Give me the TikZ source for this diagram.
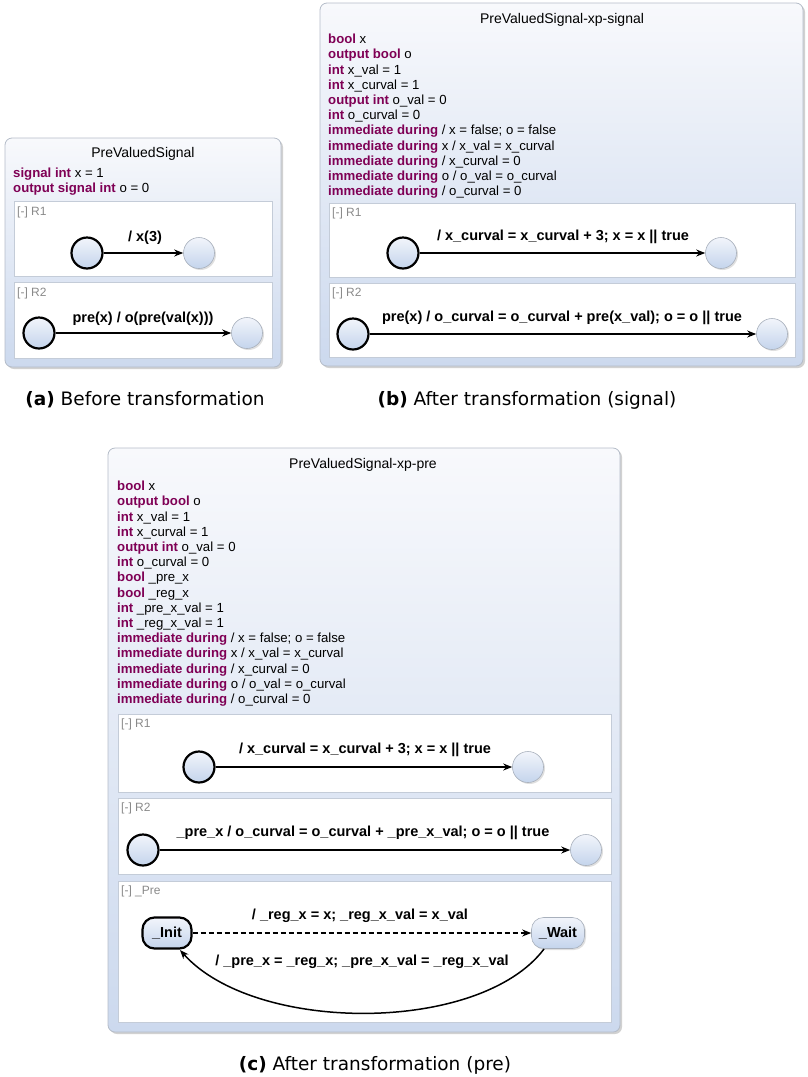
\documentclass[tikz,border=0pt]{standalone}
\usepackage{fontspec}
\setmainfont{Liberation Sans}
\newfontfamily\capfont{DejaVu Sans}
\usetikzlibrary{arrows.meta,shadows}
\definecolor{kwcol}{HTML}{7F0055}
\definecolor{boxtop}{HTML}{F8F9FC}
\definecolor{boxbot}{HTML}{CCD9EE}
\definecolor{boxborder}{HTML}{B4BCC8}
\definecolor{regborder}{HTML}{C4CCD8}
\definecolor{sttop}{HTML}{F2F5FB}
\definecolor{stbot}{HTML}{C4D4EC}
\definecolor{stborder}{HTML}{A8B0BC}
\definecolor{reggray}{HTML}{8A8A8A}
\newcommand{\kwd}[1]{\textcolor{kwcol}{\textbf{#1}}}
\begin{document}
\begin{tikzpicture}[x=1pt,y=-1pt,
  outerbox/.style={draw=boxborder, line width=0.8pt, rounded corners=7pt, top color=boxtop, bottom color=boxbot,
    drop shadow={opacity=0.3, shadow xshift=2pt, shadow yshift=-2pt, fill=black!60}},
  region/.style={draw=regborder, line width=0.8pt, fill=white},
  initst/.style={circle, minimum size=31pt, inner sep=0pt, draw=black, line width=2.2pt, top color=sttop, bottom color=stbot},
  finst/.style={circle, minimum size=31pt, inner sep=0pt, draw=stborder, line width=0.6pt, top color=sttop, bottom color=stbot,
    drop shadow={opacity=0.25, shadow xshift=1.5pt, shadow yshift=-1.5pt}},
  trans/.style={-{Stealth[length=9pt,width=7pt]}, line width=1.5pt},
  tlabel/.style={font=\fontsize{14.5}{17}\selectfont\bfseries, inner sep=0pt},
  ttitle/.style={font=\fontsize{14}{16}\selectfont, inner sep=0pt},
  code/.style={font=\fontsize{13.2}{15.2}\selectfont, align=left, anchor=north west, inner sep=0pt},
  reglabel/.style={font=\fontsize{12}{14}\selectfont, text=reggray, anchor=west, inner sep=0pt},
  capt/.style={font=\capfont\fontsize{18.5}{21}\selectfont, inner sep=0pt},
  initrect/.style={rectangle, rounded corners=12pt, minimum height=31pt, inner sep=3pt, draw=black, line width=2.2pt,
    top color=sttop, bottom color=stbot, font=\fontsize{14.5}{17}\selectfont\bfseries},
  waitrect/.style={rectangle, rounded corners=12pt, minimum height=31pt, inner sep=3pt, draw=stborder, line width=0.6pt,
    top color=sttop, bottom color=stbot, font=\fontsize{14.5}{17}\selectfont\bfseries,
    drop shadow={opacity=0.25, shadow xshift=1.5pt, shadow yshift=-1.5pt}}
]
\useasboundingbox (0,0) rectangle (808,1077);

% ---------------- Panel (a)
\draw[outerbox] (5,138) rectangle (281,367);
\node[ttitle] (ta) at (143,154) {PreValuedSignal};
\node[code] (ca) at (13,168) {\kwd{signal int} x = 1\\\kwd{output signal int} o = 0};
\draw[region] (14,201) rectangle (272,276);
\draw[region] (14,282) rectangle (272,358);
\node[reglabel] (ra1) at (17,212) {[-] R1};
\node[reglabel] (ra2) at (17,293) {[-] R2};
\node[initst] (ia1) at (87,253) {};
\node[finst] (fa1) at (199,253) {};
\draw[trans] (ia1) -- (fa1);
\node[tlabel] (la1) at (145,238) {/ x(3)};
\node[initst] (ia2) at (39,333) {};
\node[finst] (fa2) at (247,333) {};
\draw[trans] (ia2) -- (fa2);
\node[tlabel] (la2) at (143,319) {pre(x) / o(pre(val(x)))};

% ---------------- Panel (b)
\draw[outerbox] (320,3) rectangle (803,366);
\node[ttitle] (tb) at (562,20) {PreValuedSignal-xp-signal};
\node[code] (cb) at (328,34) {\kwd{bool} x\\
\kwd{output bool} o\\
\kwd{int} x\_val = 1\\
\kwd{int} x\_curval = 1\\
\kwd{output int} o\_val = 0\\
\kwd{int} o\_curval = 0\\
\kwd{immediate during} / x = false; o = false\\
\kwd{immediate during} x / x\_val = x\_curval\\
\kwd{immediate during} / x\_curval = 0\\
\kwd{immediate during} o / o\_val = o\_curval\\
\kwd{immediate during} / o\_curval = 0};
\draw[region] (329,203) rectangle (795,277);
\draw[region] (329,283) rectangle (795,357);
\node[reglabel] (rb1) at (332,213) {[-] R1};
\node[reglabel] (rb2) at (332,293) {[-] R2};
\node[initst] (ib1) at (403,253) {};
\node[finst] (fb1) at (721,253) {};
\draw[trans] (ib1) -- (fb1);
\node[tlabel] (lb1) at (563,237) {/ x\_curval = x\_curval + 3; x = x || true};
\node[initst] (ib2) at (353,334) {};
\node[finst] (fb2) at (772,334) {};
\draw[trans] (ib2) -- (fb2);
\node[tlabel] (lb2) at (562,318) {pre(x) / o\_curval = o\_curval + pre(x\_val); o = o || true};

% ---------------- Panel (c)
\draw[outerbox] (108,448) rectangle (620,1032);
\node[ttitle] (tc) at (363,465) {PreValuedSignal-xp-pre};
\node[code] (cc) at (117,481) {\kwd{bool} x\\
\kwd{output bool} o\\
\kwd{int} x\_val = 1\\
\kwd{int} x\_curval = 1\\
\kwd{output int} o\_val = 0\\
\kwd{int} o\_curval = 0\\
\kwd{bool} \_pre\_x\\
\kwd{bool} \_reg\_x\\
\kwd{int} \_pre\_x\_val = 1\\
\kwd{int} \_reg\_x\_val = 1\\
\kwd{immediate during} / x = false; o = false\\
\kwd{immediate during} x / x\_val = x\_curval\\
\kwd{immediate during} / x\_curval = 0\\
\kwd{immediate during} o / o\_val = o\_curval\\
\kwd{immediate during} / o\_curval = 0};
\draw[region] (118,714) rectangle (611,792);
\draw[region] (118,798) rectangle (611,874);
\draw[region] (118,881) rectangle (611,1022);
\node[reglabel] (rc1) at (121,724) {[-] R1};
\node[reglabel] (rc2) at (121,808) {[-] R2};
\node[reglabel] (rc3) at (121,891) {[-] \_Pre};
\node[initst] (ic1) at (199,767) {};
\node[finst] (fc1) at (528,767) {};
\draw[trans] (ic1) -- (fc1);
\node[tlabel] (lc1) at (365,750) {/ x\_curval = x\_curval + 3; x = x || true};
\node[initst] (ic2) at (143,850) {};
\node[finst] (fc2) at (586,850) {};
\draw[trans] (ic2) -- (fc2);
\node[tlabel] (lc2) at (363,833) {\_pre\_x / o\_curval = o\_curval + \_pre\_x\_val; o = o || true};
\node[initrect, minimum width=49pt] (init) at (167,933) {\_Init};
\node[waitrect, minimum width=53pt] (wait) at (558,933) {\_Wait};
\draw[trans, dash pattern=on 5pt off 3pt] (init) -- (wait);
\node[tlabel] (lc3) at (360,916) {/ \_reg\_x = x; \_reg\_x\_val = x\_val};
\coordinate (ws) at (544,949);
\coordinate (ie) at (180,950);
\draw[trans] (ws) .. controls (480,1034) and (255,1034) .. (ie);
\node[tlabel] (lc4) at (362,962) {/ \_pre\_x = \_reg\_x; \_pre\_x\_val = \_reg\_x\_val};

% ---------------- Captions
\node[capt] (capa) at (145,400) {\textbf{(a)} Before transformation};
\node[capt] (capb) at (527,400) {\textbf{(b)} After transformation (signal)};
\node[capt] (capc) at (375,1065) {\textbf{(c)} After transformation (pre)};
\end{tikzpicture}
\end{document}
